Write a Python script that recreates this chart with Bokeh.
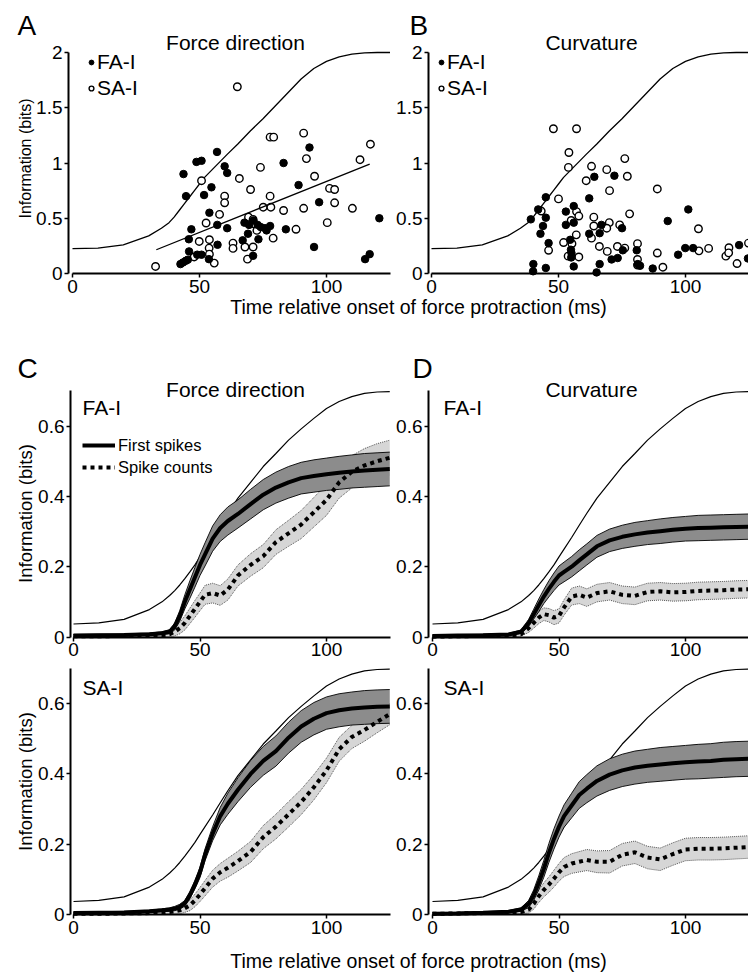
import numpy as np
from bokeh.plotting import figure
from bokeh.models import (Range1d, FixedTicker, CustomJSTickFormatter, Label,
                          Legend, LegendItem, LinearAxis)
from bokeh.embed import file_html
from bokeh.resources import INLINE

SANS = "Liberation Sans"
NARROW = "'Liberation Sans Narrow', 'Liberation Sans'"
XLABEL = "Time relative onset of force protraction (ms)"
YLABEL = "Information (bits)"
W, H = 748, 974

# ---------------- single afferents (first-spike information vs. latency) ----------------
dir_fa_t = [43.7, 44.7, 48.8, 50.8, 56.9, 59.9, 60.9, 54.7, 51.8, 53.9, 46.8, 45.8, 45.9,
            42.5, 43.5, 44.6, 45.4, 49.1, 50.8, 53.7, 57.1, 57.0, 60.9, 67.0, 69.1, 67.7,
            69.5, 71.2, 72.9, 71.1, 73.2, 74.1, 75.8, 76.4, 77.8, 84.0, 83.1, 89.0, 93.3,
            97.1, 95.1, 120.8, 115.2, 117.0]
dir_fa_info = [0.90, 0.70, 1.01, 1.02, 1.10, 0.97, 0.91, 0.78, 0.71, 0.55, 0.40, 0.31, 0.20,
               0.085, 0.10, 0.115, 0.125, 0.17, 0.17, 0.13, 0.26, 0.44, 0.41, 0.30, 0.36, 0.46,
               0.44, 0.48, 0.44, 0.16, 0.31, 0.42, 0.41, 0.39, 0.43, 0.40, 1.00, 0.80, 1.14,
               0.645, 0.24, 0.50, 0.13, 0.175]
dir_sa_t = [32.7, 50.8, 64.9, 59.9, 59.9, 57.9, 52.6, 49.9, 53.9, 53.8, 53.9, 47.9, 55.8,
            65.7, 70.1, 74.0, 77.8, 79.2, 77.8, 75.1, 78.1, 63.2, 63.2, 67.9, 68.9, 71.1,
            69.3, 71.1, 71.5, 72.6, 79.0, 83.1, 88.0, 91.0, 92.1, 95.3, 91.0, 100.3, 101.2,
            103.2, 103.2, 110.2, 113.2, 117.3]
dir_sa_info = [0.064, 0.84, 1.69, 0.70, 0.64, 0.535, 0.457, 0.29, 0.306, 0.23, 0.175, 0.15,
               0.094, 0.86, 0.76, 0.96, 1.234, 1.234, 0.70, 0.60, 0.60, 0.275, 0.227, 0.24,
               0.13, 0.24, 0.51, 0.49, 0.45, 0.39, 0.32, 0.57, 0.40, 1.27, 1.04, 0.88, 0.59,
               0.46, 0.77, 0.76, 0.64, 0.59, 1.03, 1.17]
dir_fit_t = [33.0, 117.0]
dir_fit_info = [0.215, 0.99]

curv_fa_t = [39.1, 40.1, 40.0, 42.0, 42.9, 43.9, 45.0, 45.0, 46.1, 45.0, 52.9, 52.9, 54.6,
             54.9, 55.0, 56.0, 56.0, 56.0, 55.1, 62.1, 62.1, 64.1, 66.2, 66.2, 65.0, 66.9,
             72.0, 70.9, 73.3, 75.0, 75.3, 80.8, 81.2, 82.1, 87.1, 93.0, 97.1, 99.9, 101.1,
             103.0, 121.1, 124.6]
curv_fa_info = [0.49, 0.085, 0.02, 0.58, 0.36, 0.43, 0.69, 0.505, 0.275, 0.05, 0.56, 0.44,
                0.305, 0.215, 0.145, 0.61, 0.46, 0.064, 0.185, 0.68, 0.36, 0.875, 0.365,
                0.085, 0.01, 0.44, 0.885, 0.127, 0.14, 0.41, 0.21, 0.21, 0.085, 0.07, 0.045,
                0.475, 0.17, 0.23, 0.58, 0.23, 0.257, 0.136]
curv_sa_t = [48.0, 57.1, 54.1, 53.9, 50.0, 43.2, 46.1, 52.0, 55.3, 53.8, 57.0, 58.0, 55.0,
             57.1, 58.0, 60.9, 63.0, 63.9, 63.9, 63.0, 66.1, 69.0, 70.1, 70.0, 69.0, 69.2,
             73.2, 74.1, 76.1, 77.1, 76.1, 78.0, 81.1, 81.1, 81.1, 88.9, 88.9, 91.1, 105.1,
             105.3, 109.1, 115.9, 117.1, 117.0, 120.3, 124.8]
curv_sa_info = [1.31, 1.31, 1.095, 0.96, 0.675, 0.565, 0.21, 0.28, 0.27, 0.157, 0.35, 0.15,
                0.48, 0.56, 0.52, 0.84, 0.97, 0.51, 0.43, 0.32, 0.245, 0.94, 0.75, 0.46, 0.41,
                0.20, 0.245, 0.44, 1.04, 0.88, 0.23, 0.54, 0.27, 0.127, 0.076, 0.765, 0.185,
                0.057, 0.405, 0.205, 0.227, 0.157, 0.233, 0.187, 0.09, 0.275]

# ---------------- population curves ----------------
t_ms = [0, 10, 20, 30, 35, 38, 40, 42, 44, 46, 48, 50, 52, 55, 58, 61, 65, 70, 75, 80,
        85, 90, 95, 100, 105, 110, 115, 120, 125]

# scaled force profile drawn for reference
force_bits = [0.225, 0.23, 0.26, 0.34, 0.41, 0.46, 0.51, 0.57, 0.63, 0.69, 0.75, 0.81, 0.87,
              0.94, 1.01, 1.08, 1.17, 1.29, 1.40, 1.52, 1.64, 1.76, 1.855, 1.92, 1.96, 1.985,
              1.997, 2.0, 2.0]
force_pop = [0.037, 0.040, 0.050, 0.078, 0.100, 0.118, 0.132, 0.148, 0.166, 0.185, 0.205,
             0.228, 0.250, 0.283, 0.318, 0.352, 0.395, 0.440, 0.485, 0.522, 0.560, 0.592,
             0.622, 0.650, 0.670, 0.684, 0.693, 0.697, 0.698]

fa_dir_first = [0.004, 0.005, 0.006, 0.008, 0.011, 0.015, 0.030, 0.060, 0.100, 0.135, 0.170,
                0.205, 0.235, 0.280, 0.310, 0.330, 0.350, 0.378, 0.405, 0.425, 0.440, 0.452,
                0.458, 0.463, 0.467, 0.471, 0.474, 0.476, 0.478]
fa_dir_first_sd = [0.003, 0.003, 0.003, 0.003, 0.004, 0.006, 0.010, 0.015, 0.020, 0.025, 0.028,
                   0.030, 0.033, 0.036, 0.038, 0.040, 0.040, 0.042, 0.043, 0.044, 0.045, 0.045,
                   0.046, 0.046, 0.047, 0.047, 0.048, 0.048, 0.048]
fa_dir_count = [0.002, 0.002, 0.003, 0.004, 0.005, 0.008, 0.015, 0.025, 0.040, 0.060, 0.080,
                0.100, 0.120, 0.125, 0.118, 0.135, 0.175, 0.205, 0.230, 0.270, 0.295, 0.320,
                0.355, 0.390, 0.440, 0.470, 0.488, 0.500, 0.510]
fa_dir_count_sd = [0.004, 0.004, 0.004, 0.004, 0.005, 0.008, 0.012, 0.016, 0.020, 0.022, 0.024,
                   0.025, 0.027, 0.028, 0.028, 0.030, 0.030, 0.032, 0.033, 0.035, 0.037, 0.040,
                   0.042, 0.044, 0.045, 0.046, 0.048, 0.050, 0.050]

sa_dir_first = [0.004, 0.005, 0.006, 0.009, 0.012, 0.014, 0.017, 0.022, 0.032, 0.055, 0.085,
                0.120, 0.170, 0.230, 0.280, 0.315, 0.355, 0.400, 0.437, 0.465, 0.503, 0.535,
                0.557, 0.573, 0.581, 0.586, 0.589, 0.591, 0.592]
sa_dir_first_sd = [0.003, 0.003, 0.003, 0.003, 0.004, 0.005, 0.006, 0.007, 0.008, 0.010, 0.012,
                   0.015, 0.017, 0.020, 0.025, 0.030, 0.034, 0.038, 0.041, 0.043, 0.044, 0.045,
                   0.046, 0.046, 0.047, 0.047, 0.048, 0.048, 0.048]
sa_dir_count = [0.002, 0.002, 0.003, 0.004, 0.005, 0.007, 0.009, 0.012, 0.018, 0.026, 0.040,
                0.057, 0.075, 0.102, 0.120, 0.133, 0.152, 0.178, 0.220, 0.250, 0.285, 0.320,
                0.362, 0.410, 0.470, 0.505, 0.525, 0.548, 0.570]
sa_dir_count_sd = [0.004, 0.004, 0.004, 0.004, 0.005, 0.006, 0.008, 0.010, 0.012, 0.015, 0.018,
                   0.020, 0.022, 0.024, 0.025, 0.027, 0.028, 0.030, 0.033, 0.035, 0.036, 0.036,
                   0.036, 0.035, 0.034, 0.033, 0.032, 0.031, 0.030]

fa_curv_first = [0.003, 0.004, 0.005, 0.007, 0.015, 0.040, 0.065, 0.090, 0.115, 0.137, 0.157,
                 0.175, 0.185, 0.200, 0.218, 0.235, 0.258, 0.275, 0.285, 0.292, 0.297, 0.301,
                 0.305, 0.308, 0.310, 0.311, 0.312, 0.313, 0.314]
fa_curv_first_sd = [0.003, 0.003, 0.003, 0.003, 0.005, 0.010, 0.014, 0.018, 0.020, 0.023, 0.025,
                    0.027, 0.028, 0.029, 0.030, 0.030, 0.031, 0.032, 0.033, 0.034, 0.034, 0.035,
                    0.035, 0.035, 0.036, 0.036, 0.036, 0.036, 0.036]
fa_curv_count = [0.001, 0.002, 0.003, 0.004, 0.008, 0.025, 0.040, 0.055, 0.065, 0.062, 0.055,
                 0.060, 0.084, 0.115, 0.120, 0.112, 0.125, 0.130, 0.120, 0.117, 0.128, 0.130,
                 0.127, 0.128, 0.131, 0.132, 0.133, 0.135, 0.136]
fa_curv_count_sd = [0.004, 0.004, 0.004, 0.004, 0.006, 0.012, 0.015, 0.017, 0.018, 0.019, 0.020,
                    0.020, 0.022, 0.024, 0.025, 0.025, 0.025, 0.025, 0.025, 0.025, 0.025, 0.025,
                    0.025, 0.025, 0.025, 0.025, 0.025, 0.025, 0.025]

sa_curv_first = [0.002, 0.003, 0.005, 0.008, 0.014, 0.030, 0.055, 0.090, 0.130, 0.175, 0.215,
                 0.250, 0.280, 0.310, 0.340, 0.358, 0.380, 0.398, 0.410, 0.418, 0.423, 0.427,
                 0.430, 0.433, 0.435, 0.437, 0.440, 0.442, 0.443]
sa_curv_first_sd = [0.003, 0.003, 0.003, 0.003, 0.005, 0.010, 0.015, 0.020, 0.024, 0.027, 0.029,
                    0.030, 0.032, 0.035, 0.038, 0.040, 0.043, 0.045, 0.046, 0.047, 0.047, 0.048,
                    0.048, 0.048, 0.049, 0.049, 0.050, 0.050, 0.050]
sa_curv_count = [0.002, 0.003, 0.004, 0.005, 0.007, 0.014, 0.030, 0.052, 0.070, 0.085, 0.102,
                 0.120, 0.135, 0.145, 0.150, 0.155, 0.150, 0.150, 0.170, 0.177, 0.162, 0.157,
                 0.172, 0.185, 0.187, 0.187, 0.188, 0.190, 0.192]
sa_curv_count_sd = [0.004, 0.004, 0.004, 0.004, 0.005, 0.010, 0.015, 0.018, 0.020, 0.022, 0.024,
                    0.025, 0.027, 0.028, 0.029, 0.030, 0.031, 0.032, 0.032, 0.032, 0.032, 0.032,
                    0.032, 0.032, 0.032, 0.032, 0.032, 0.032, 0.032]

DARK_BAND = "#8c8c8c"
LIGHT_BAND = "#d6d6d6"

# ---------------- page geometry: pixel of data zero and pixels per unit ----------------
# columns: (x of t=0, px per ms, x of the y-axis line, right end of the x-axis in ms)
COLS = {"xa": (72, 2.54, 68, 125.2), "xb": (431, 2.54, 428, 124.8),
        "xc": (73, 2.53, 70, 125.3), "xd": (432, 2.53, 428, 124.9)}
# rows: (y of zero information, px per bit)
ROWS = {"ya": (273, 110.5), "yc": (636.5, 351.5), "ye": (914, 351.5)}


def x_range_for(name):
    x0, xs, _, _ = COLS[name]
    return Range1d(-x0 / xs, (W - x0) / xs)


def y_range_for(name):
    y0, ys = ROWS[name]
    return Range1d((y0 - H) / ys, y0 / ys)


p = figure(width=W, height=H, x_range=x_range_for("xa"), y_range=y_range_for("ya"),
           output_backend="svg", toolbar_location=None, min_border=0,
           x_axis_location=None, y_axis_location=None)
p.outline_line_color = None
p.grid.visible = False
p.extra_x_ranges = {n: x_range_for(n) for n in ("xb", "xc", "xd")}
p.extra_y_ranges = {n: y_range_for(n) for n in ("yc", "ye")}


def rng(xn, yn):
    return dict(x_range_name="default" if xn == "xa" else xn,
                y_range_name="default" if yn == "ya" else yn)


def style_axis(ax):
    ax.formatter = CustomJSTickFormatter(code="return String(tick);")
    ax.axis_line_width = 2
    ax.axis_line_color = "black"
    ax.major_tick_line_width = 1.5
    ax.major_tick_line_color = "black"
    ax.major_tick_out = 4
    ax.major_tick_in = 0
    ax.minor_tick_line_color = None
    ax.major_label_text_font = NARROW
    ax.major_label_text_font_size = "19px"
    ax.major_label_text_color = "black"
    ax.major_label_standoff = 2


def add_axes(xn, yn, y_top, yticks):
    x0, xs, axis_px, x_end = COLS[xn]
    names = rng(xn, yn)
    xaxis = LinearAxis(fixed_location=0, bounds=(0, x_end),
                       ticker=FixedTicker(ticks=[0, 50, 100]), **names)
    style_axis(xaxis)
    p.add_layout(xaxis, "below")
    yaxis = LinearAxis(fixed_location=(axis_px - x0) / xs, bounds=(0, y_top),
                       ticker=FixedTicker(ticks=yticks), **names)
    style_axis(yaxis)
    p.add_layout(yaxis, "left")


def add_text(x, y, text, size, align="left", angle=0.0):
    # x, y are page pixels measured from the top-left corner
    p.add_layout(Label(x=x, y=H - y, x_units="screen", y_units="screen", text=text,
                       text_font=SANS, text_font_size=size, text_align=align,
                       text_baseline="middle", text_color="black", angle=angle))


def scatter_panel(xn, fa_t, fa_i, sa_t, sa_i, legend_left):
    names = rng(xn, "ya")
    p.line(t_ms, force_bits, line_color="black", line_width=1.3, **names)
    r_sa = p.scatter(sa_t, sa_i, marker="circle", size=7.5, fill_color="white",
                     line_color="black", line_width=1.4, **names)
    r_fa = p.scatter(fa_t, fa_i, marker="circle", size=7.5, fill_color="black",
                     line_color="black", line_width=1, **names)
    leg = Legend(items=[LegendItem(label="FA-I", renderers=[r_fa]),
                        LegendItem(label="SA-I", renderers=[r_sa])],
                 location=(legend_left, H - 100), glyph_width=12, glyph_height=14,
                 label_standoff=0, spacing=2, padding=0, margin=0, label_height=24,
                 label_text_font=SANS, label_text_font_size="21px",
                 label_text_color="black",
                 border_line_color=None, background_fill_alpha=0)
    p.add_layout(leg)
    add_axes(xn, "ya", 2.0, [0, 0.5, 1, 1.5, 2])


def population_panel(xn, yn, first, first_sd, count, count_sd, legend=False):
    names = rng(xn, yn)
    t = np.array(t_ms, dtype=float)
    f, fs = np.array(first), np.array(first_sd)
    c, cs = np.array(count), np.array(count_sd)
    p.line(t, force_pop, line_color="black", line_width=1.2, **names)
    # spike-count band
    p.varea(x=t, y1=c - cs, y2=c + cs, fill_color=LIGHT_BAND, **names)
    for edge in (c - cs, c + cs):
        p.line(t, edge, line_color="#555555", line_width=1, line_dash="1 1", **names)
    # first-spike band
    p.varea(x=t, y1=f - fs, y2=f + fs, fill_color=DARK_BAND, **names)
    for edge in (f - fs, f + fs):
        p.line(t, edge, line_color="black", line_width=0.9, **names)
    r_first = p.line(t, f, line_color="black", line_width=4, **names)
    r_count = p.line(t, c, line_color="black", line_width=4, line_dash="4 4", **names)
    if legend:
        leg = Legend(items=[LegendItem(label="First spikes", renderers=[r_first]),
                            LegendItem(label="Spike counts", renderers=[r_count])],
                     location=(82, H - 477), glyph_width=33, glyph_height=20,
                     label_standoff=3, spacing=2, padding=0, margin=0, label_height=20,
                     label_text_font=SANS, label_text_font_size="16.5px",
                     label_text_color="black",
                     border_line_color=None, background_fill_alpha=0)
        p.add_layout(leg)
    add_axes(xn, yn, 0.70, [0, 0.2, 0.4, 0.6])


HALF_PI = np.pi / 2

# ---- A / B: single afferents ----
scatter_panel("xa", dir_fa_t, dir_fa_info, dir_sa_t, dir_sa_info, 85)
p.line(dir_fit_t, dir_fit_info, line_color="black", line_width=1.3)
scatter_panel("xb", curv_fa_t, curv_fa_info, curv_sa_t, curv_sa_info, 435)

# ---- C / D: populations ----
population_panel("xc", "yc", fa_dir_first, fa_dir_first_sd, fa_dir_count, fa_dir_count_sd,
                 legend=True)
population_panel("xc", "ye", sa_dir_first, sa_dir_first_sd, sa_dir_count, sa_dir_count_sd)
population_panel("xd", "yc", fa_curv_first, fa_curv_first_sd, fa_curv_count, fa_curv_count_sd)
population_panel("xd", "ye", sa_curv_first, sa_curv_first_sd, sa_curv_count, sa_curv_count_sd)

# ---- texts ----
add_text(17, 25, "A", "28px")
add_text(409, 25, "B", "28px")
add_text(235, 42, "Force direction", "21px", "center")
add_text(591, 42, "Curvature", "21px", "center")
add_text(25, 158, YLABEL, "16px", "center", HALF_PI)
add_text(418, 306, XLABEL, "19.5px", "center")

add_text(17, 368, "C", "28px")
add_text(412, 368, "D", "28px")
add_text(235, 389, "Force direction", "21px", "center")
add_text(591, 389, "Curvature", "21px", "center")
add_text(82, 407, "FA-I", "21px")
add_text(443, 407, "FA-I", "21px")
add_text(82, 687, "SA-I", "21px")
add_text(443, 687, "SA-I", "21px")
add_text(25, 513, YLABEL, "18.5px", "center", HALF_PI)
add_text(25, 781, YLABEL, "18.5px", "center", HALF_PI)
add_text(418, 960, XLABEL, "19.5px", "center")

open("out.html", "w").write(file_html(p, INLINE))
